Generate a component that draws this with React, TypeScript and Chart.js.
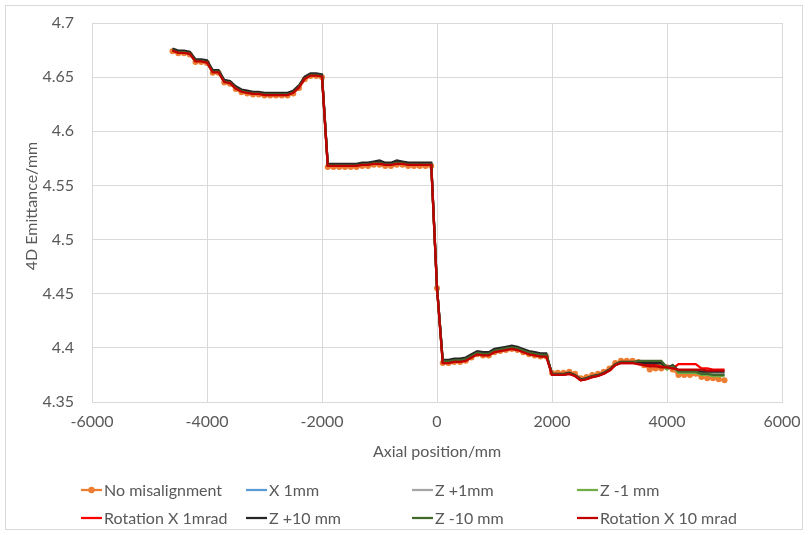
import React, { useEffect, useRef } from "react";
import { Chart, registerables } from "chart.js";

Chart.register(...registerables);

// ---------- data ----------
const axialPosition = [
  -4600, -4500, -4400, -4300, -4200, -4100, -4000, -3900, -3800, -3700, -3600, -3500, -3400, -3300, -3200, -3100,
  -3000, -2900, -2800, -2700, -2600, -2500, -2400, -2300, -2200, -2100, -2000,
  -1900, -1800, -1700, -1600, -1500, -1400, -1300, -1200, -1100, -1000, -900, -800, -700, -600, -500, -400, -300, -200, -100,
  0,
  100, 200, 300, 400, 500, 600, 700, 800, 900, 1000, 1100, 1200, 1300, 1400, 1500, 1600, 1700, 1800, 1900,
  2000, 2100, 2200, 2300, 2400, 2500, 2600, 2700, 2800, 2900, 3000, 3100, 3200, 3300, 3400,
  3500, 3600, 3700, 3800, 3900, 4000, 4100, 4200, 4300, 4400, 4500, 4600, 4700, 4800, 4900, 5000,
];

const noMisalignment = [
  4.674, 4.672, 4.672, 4.671, 4.664, 4.664, 4.663, 4.654, 4.654, 4.645, 4.644, 4.639, 4.636, 4.635, 4.634, 4.634,
  4.633, 4.633, 4.633, 4.633, 4.633, 4.635, 4.640, 4.648, 4.651, 4.651, 4.650,
  4.567, 4.567, 4.567, 4.567, 4.567, 4.567, 4.568, 4.568, 4.569, 4.569, 4.568, 4.568, 4.569, 4.569, 4.568, 4.568, 4.568, 4.568, 4.568,
  4.455,
  4.386, 4.386, 4.387, 4.387, 4.388, 4.391, 4.394, 4.393, 4.393, 4.396, 4.397, 4.398, 4.399, 4.398, 4.396, 4.394, 4.393, 4.392, 4.392,
  4.377, 4.377, 4.377, 4.378, 4.376, 4.372, 4.373, 4.375, 4.376, 4.378, 4.381, 4.386, 4.388, 4.388, 4.388,
  4.387, 4.384, 4.380, 4.381, 4.381, 4.382, 4.380, 4.375, 4.375, 4.375, 4.376, 4.373, 4.372, 4.372, 4.371, 4.370,
];

const x1mm = [
  4.675, 4.673, 4.673, 4.672, 4.665, 4.665, 4.664, 4.655, 4.655, 4.646, 4.645, 4.640, 4.637, 4.636, 4.635, 4.635,
  4.634, 4.634, 4.634, 4.634, 4.634, 4.636, 4.641, 4.649, 4.652, 4.652, 4.651,
  4.569, 4.569, 4.569, 4.569, 4.569, 4.569, 4.570, 4.570, 4.571, 4.571, 4.570, 4.570, 4.571, 4.571, 4.570, 4.570, 4.570, 4.570, 4.570,
  4.456,
  4.3875, 4.3875, 4.3885, 4.3885, 4.3895, 4.3925, 4.3955, 4.3945, 4.3945, 4.3975, 4.3985, 4.3995, 4.4005, 4.3995, 4.3975, 4.3955, 4.3945, 4.3935, 4.3935,
  4.3755, 4.3755, 4.3755, 4.3765, 4.3745, 4.3705, 4.3715, 4.3735, 4.3745, 4.3765, 4.3795, 4.3845, 4.3865, 4.3865, 4.3865,
  4.386, 4.385, 4.384, 4.384, 4.383, 4.383, 4.383, 4.378, 4.378, 4.378, 4.378, 4.377, 4.377, 4.376, 4.376, 4.376,
];

const zPlus1mm = [
  4.675, 4.673, 4.673, 4.672, 4.665, 4.665, 4.664, 4.655, 4.655, 4.646, 4.645, 4.640, 4.637, 4.636, 4.635, 4.635,
  4.634, 4.634, 4.634, 4.634, 4.634, 4.636, 4.641, 4.649, 4.652, 4.652, 4.651,
  4.569, 4.569, 4.569, 4.569, 4.569, 4.569, 4.570, 4.570, 4.571, 4.571, 4.570, 4.570, 4.571, 4.571, 4.570, 4.570, 4.570, 4.570, 4.570,
  4.456,
  4.3875, 4.3875, 4.3885, 4.3885, 4.3895, 4.3925, 4.3955, 4.3945, 4.3945, 4.3975, 4.3985, 4.3995, 4.4005, 4.3995, 4.3975, 4.3955, 4.3945, 4.3935, 4.3935,
  4.3755, 4.3755, 4.3755, 4.3765, 4.3745, 4.3705, 4.3715, 4.3735, 4.3745, 4.3765, 4.3795, 4.3845, 4.3865, 4.3865, 4.3865,
  4.386, 4.385, 4.384, 4.384, 4.383, 4.383, 4.382, 4.378, 4.378, 4.378, 4.378, 4.377, 4.377, 4.377, 4.377, 4.377,
];

const zMinus1mm = [
  4.6755, 4.6735, 4.6735, 4.6725, 4.6655, 4.6655, 4.6645, 4.6555, 4.6555, 4.6465, 4.6455, 4.6405, 4.6375, 4.6365, 4.6355, 4.6355,
  4.6345, 4.6345, 4.6345, 4.6345, 4.6345, 4.6365, 4.6415, 4.6495, 4.6525, 4.6525, 4.6515,
  4.569, 4.569, 4.569, 4.569, 4.569, 4.569, 4.570, 4.570, 4.571, 4.571, 4.570, 4.570, 4.571, 4.571, 4.570, 4.570, 4.570, 4.570, 4.570,
  4.456,
  4.3875, 4.3875, 4.3885, 4.3885, 4.3895, 4.3925, 4.3955, 4.3945, 4.3945, 4.3975, 4.3985, 4.3995, 4.4005, 4.3995, 4.3975, 4.3955, 4.3945, 4.3935, 4.3935,
  4.3755, 4.3755, 4.3755, 4.3765, 4.3745, 4.3705, 4.3715, 4.3735, 4.3745, 4.3765, 4.3795, 4.3845, 4.3865, 4.3865, 4.3865,
  4.386, 4.385, 4.385, 4.384, 4.384, 4.380, 4.384, 4.377, 4.377, 4.377, 4.377, 4.375, 4.375, 4.374, 4.374, 4.374,
];

const rotX1mrad = [
  4.675, 4.673, 4.673, 4.672, 4.665, 4.665, 4.664, 4.655, 4.655, 4.646, 4.645, 4.640, 4.637, 4.636, 4.635, 4.635,
  4.634, 4.634, 4.634, 4.634, 4.634, 4.636, 4.641, 4.649, 4.652, 4.652, 4.651,
  4.5685, 4.5685, 4.5685, 4.5685, 4.5685, 4.5685, 4.5695, 4.5695, 4.5705, 4.5705, 4.5695, 4.5695, 4.5705, 4.5705, 4.5695, 4.5695, 4.5695, 4.5695, 4.5695,
  4.456,
  4.3865, 4.3865, 4.3875, 4.3875, 4.3885, 4.3915, 4.3945, 4.3935, 4.3935, 4.3965, 4.3975, 4.3985, 4.3995, 4.3985, 4.3965, 4.3945, 4.3935, 4.3925, 4.3925,
  4.375, 4.375, 4.375, 4.376, 4.374, 4.370, 4.371, 4.373, 4.374, 4.376, 4.379, 4.384, 4.386, 4.386, 4.386,
  4.385, 4.384, 4.384, 4.384, 4.383, 4.383, 4.381, 4.385, 4.385, 4.385, 4.385, 4.381, 4.381, 4.380, 4.380, 4.380,
];

const zPlus10mm = [
  4.6765, 4.6745, 4.6745, 4.6735, 4.6665, 4.6665, 4.6655, 4.6565, 4.6565, 4.6475, 4.6465, 4.6415, 4.6385, 4.6375, 4.6365, 4.6365,
  4.6355, 4.6355, 4.6355, 4.6355, 4.6355, 4.6375, 4.6425, 4.6505, 4.6535, 4.6535, 4.6525,
  4.570, 4.570, 4.570, 4.570, 4.570, 4.570, 4.571, 4.571, 4.572, 4.573, 4.571, 4.571, 4.573, 4.572, 4.571, 4.571, 4.571, 4.571, 4.571,
  4.456,
  4.389, 4.389, 4.390, 4.390, 4.391, 4.394, 4.397, 4.396, 4.396, 4.399, 4.400, 4.401, 4.402, 4.401, 4.399, 4.397, 4.396, 4.395, 4.395,
  4.376, 4.376, 4.376, 4.377, 4.375, 4.371, 4.372, 4.374, 4.375, 4.377, 4.380, 4.385, 4.387, 4.387, 4.387,
  4.387, 4.386, 4.386, 4.386, 4.386, 4.382, 4.384, 4.379, 4.379, 4.379, 4.379, 4.378, 4.378, 4.378, 4.378, 4.378,
];

const zMinus10mm = [
  4.675, 4.673, 4.673, 4.672, 4.665, 4.665, 4.664, 4.655, 4.655, 4.646, 4.645, 4.640, 4.637, 4.636, 4.635, 4.635,
  4.634, 4.634, 4.634, 4.634, 4.634, 4.636, 4.641, 4.649, 4.652, 4.652, 4.651,
  4.5685, 4.5685, 4.5685, 4.5685, 4.5685, 4.5685, 4.5695, 4.5695, 4.5705, 4.5705, 4.5695, 4.5695, 4.5705, 4.5705, 4.5695, 4.5695, 4.5695, 4.5695, 4.5695,
  4.456,
  4.3875, 4.3875, 4.3885, 4.3885, 4.3895, 4.3925, 4.3955, 4.3945, 4.3945, 4.3975, 4.3985, 4.3995, 4.4005, 4.3995, 4.3975, 4.3955, 4.3945, 4.3935, 4.3935,
  4.3755, 4.3755, 4.3755, 4.3765, 4.3745, 4.3705, 4.3715, 4.3735, 4.3745, 4.3765, 4.3795, 4.3845, 4.3865, 4.3865, 4.3865,
  4.388, 4.388, 4.388, 4.388, 4.388, 4.382, 4.383, 4.378, 4.378, 4.378, 4.378, 4.376, 4.376, 4.375, 4.375, 4.375,
];

const rotX10mrad = [
  4.6745, 4.6725, 4.6725, 4.6715, 4.6645, 4.6645, 4.6635, 4.6545, 4.6545, 4.6455, 4.6445, 4.6395, 4.6365, 4.6355, 4.6345, 4.6345,
  4.6335, 4.6335, 4.6335, 4.6335, 4.6335, 4.6355, 4.6405, 4.6485, 4.6515, 4.6515, 4.6505,
  4.568, 4.568, 4.568, 4.568, 4.568, 4.568, 4.569, 4.569, 4.570, 4.570, 4.569, 4.569, 4.570, 4.570, 4.569, 4.569, 4.569, 4.569, 4.569,
  4.455,
  4.386, 4.386, 4.387, 4.387, 4.388, 4.391, 4.394, 4.393, 4.393, 4.396, 4.397, 4.398, 4.399, 4.398, 4.396, 4.394, 4.393, 4.392, 4.392,
  4.375, 4.375, 4.375, 4.376, 4.374, 4.370, 4.371, 4.373, 4.374, 4.376, 4.379, 4.384, 4.386, 4.386, 4.386,
  4.385, 4.384, 4.383, 4.383, 4.382, 4.382, 4.381, 4.380, 4.380, 4.380, 4.380, 4.380, 4.379, 4.379, 4.379, 4.379,
];

const seriesNames = [
  "No misalignment",
  "X 1mm",
  "Z +1mm",
  "Z -1 mm",
  "Rotation X 1mrad",
  "Z +10 mm",
  "Z -10 mm",
  "Rotation X 10 mrad",
];
const seriesValues = [noMisalignment, x1mm, zPlus1mm, zMinus1mm, rotX1mrad, zPlus10mm, zMinus10mm, rotX10mrad];
const seriesColors = ["#ED7D31", "#5B9BD5", "#A5A5A5", "#70AD47", "#FF0000", "#262626", "#43682B", "#C00000"];

const xAxisTitle = "Axial position/mm";
const yAxisTitle = "4D Emittance/mm";
const xMin = -6000;
const xMax = 6000;
const xStep = 2000;
const yMin = 4.35;
const yMax = 4.7;
const yStep = 0.05;

// ---------- styling ----------
const FONT_FAMILY = "Lato, 'Open Sans', sans-serif";
const FONT_SIZE = 16;
const TEXT_COLOR = "#595959";
const GRID_COLOR = "#D9D9D9";

const legendCols = [81, 246, 412, 577];
const legendRows = [490, 518];

const customLegend = {
  id: "customLegend",
  afterDraw(chart: any) {
    const ctx = chart.ctx as CanvasRenderingContext2D;
    ctx.save();
    ctx.font = `${FONT_SIZE}px ${FONT_FAMILY}`;
    ctx.textBaseline = "middle";
    ctx.textAlign = "left";
    chart.data.datasets.forEach((ds: any, i: number) => {
      const x0 = legendCols[i % 4];
      const y = legendRows[Math.floor(i / 4)];
      ctx.strokeStyle = ds.borderColor;
      ctx.lineWidth = 2.25;
      ctx.beginPath();
      ctx.moveTo(x0, y);
      ctx.lineTo(x0 + 21, y);
      ctx.stroke();
      if (ds.pointRadius > 0) {
        ctx.fillStyle = ds.borderColor;
        ctx.beginPath();
        ctx.arc(x0 + 10.5, y, 3.2, 0, Math.PI * 2);
        ctx.fill();
      }
      ctx.fillStyle = TEXT_COLOR;
      ctx.fillText(ds.label, x0 + 23, y + 1);
    });
    ctx.restore();
  },
};

const yTitlePlugin = {
  id: "yTitle",
  afterDraw(chart: any) {
    const ctx = chart.ctx as CanvasRenderingContext2D;
    ctx.save();
    ctx.font = `${FONT_SIZE}px ${FONT_FAMILY}`;
    ctx.fillStyle = TEXT_COLOR;
    ctx.textAlign = "center";
    ctx.textBaseline = "middle";
    ctx.translate(32, 206);
    ctx.rotate(-Math.PI / 2);
    ctx.fillText(yAxisTitle, 0, 0);
    ctx.restore();
  },
};

const frame = {
  id: "frame",
  beforeDraw(chart: any) {
    const ctx = chart.ctx as CanvasRenderingContext2D;
    ctx.save();
    ctx.fillStyle = "#FFFFFF";
    ctx.fillRect(0, 0, chart.width, chart.height);
    ctx.strokeStyle = GRID_COLOR;
    ctx.lineWidth = 1;
    ctx.strokeRect(5.5, 5.5, 797, 524);
    ctx.restore();
  },
};

export default function App() {
  const canvasRef = useRef<HTMLCanvasElement | null>(null);

  useEffect(() => {
    if (!canvasRef.current) return;
    const datasets = seriesNames.map((name, i) => ({
      label: name,
      data: axialPosition.map((x, j) => ({ x, y: seriesValues[i][j] })),
      borderColor: seriesColors[i],
      backgroundColor: seriesColors[i],
      borderWidth: 2.25,
      pointRadius: i === 0 ? 3 : 0,
      pointBorderWidth: 0,
      pointHoverRadius: 0,
      tension: 0,
      fill: false,
      order: seriesNames.length - 1 - i,
    }));

    const chart = new Chart(canvasRef.current, {
      type: "line",
      data: { datasets },
      options: {
        responsive: false,
        animation: false,
        events: [],
        layout: { padding: { left: 0, top: 23, right: 26, bottom: 71 } },
        scales: {
          x: {
            type: "linear",
            min: xMin,
            max: xMax,
            afterFit: (s: any) => {
              s.height = 62;
            },
            ticks: {
              stepSize: xStep,
              autoSkip: false,
              maxRotation: 0,
              padding: 0,
              color: TEXT_COLOR,
              font: { family: FONT_FAMILY, size: FONT_SIZE },
              callback: (v: any) => String(v),
            },
            grid: { color: GRID_COLOR, lineWidth: 1, drawTicks: true, tickLength: 10, tickColor: "rgba(0,0,0,0)" },
            border: { color: GRID_COLOR, width: 1 },
            title: {
              display: true,
              text: xAxisTitle,
              color: TEXT_COLOR,
              font: { family: FONT_FAMILY, size: FONT_SIZE },
              padding: { top: 0, bottom: 3 },
            },
          },
          y: {
            type: "linear",
            min: yMin,
            max: yMax,
            afterFit: (s: any) => {
              s.width = 92;
            },
            ticks: {
              stepSize: yStep,
              padding: 0,
              color: TEXT_COLOR,
              font: { family: FONT_FAMILY, size: FONT_SIZE },
              callback: (v: any) => String(Number(Number(v).toFixed(2))),
            },
            grid: { color: GRID_COLOR, lineWidth: 1, drawTicks: true, tickLength: 18, tickColor: "rgba(0,0,0,0)" },
            border: { color: GRID_COLOR, width: 1 },
            title: { display: false },
          },
        },
        plugins: {
          legend: { display: false },
          tooltip: { enabled: false },
        },
      },
      plugins: [frame, customLegend, yTitlePlugin],
    } as any);

    return () => chart.destroy();
  }, []);

  return (
    <div style={{ position: "absolute", left: 0, top: 0, width: 808, height: 535, background: "#fff" }}>
      <canvas ref={canvasRef} width={808} height={535} style={{ display: "block" }} />
    </div>
  );
}
